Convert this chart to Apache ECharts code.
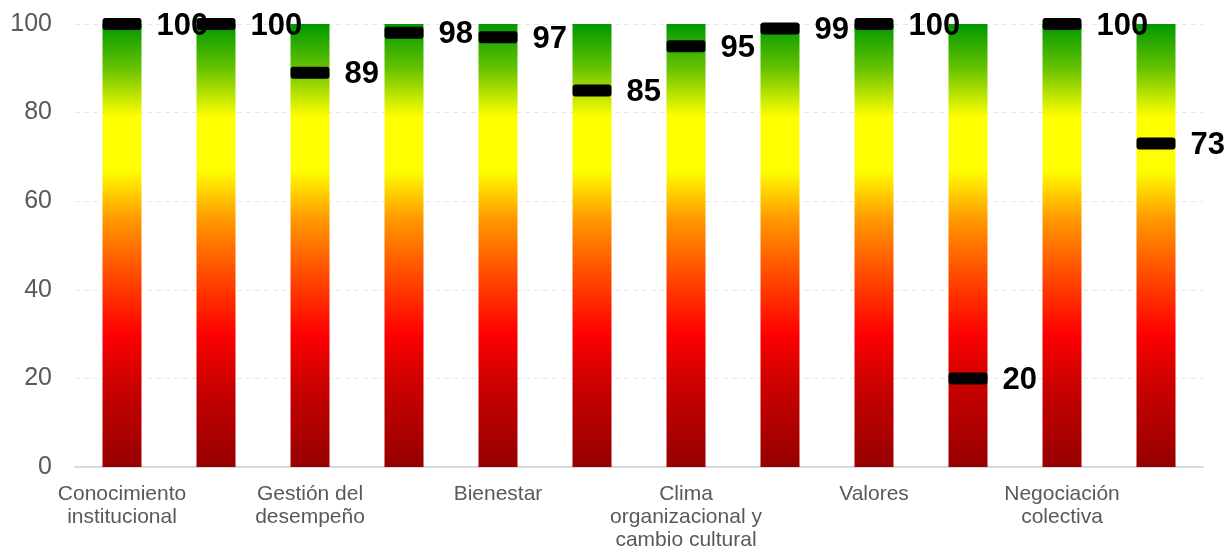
<!DOCTYPE html>
<html>
<head>
<meta charset="utf-8">
<style>
  html, body { margin: 0; padding: 0; background: #ffffff; }
  #chart { width: 1228px; height: 552px; }
</style>
<script src="https://cdn.jsdelivr.net/npm/echarts@6/dist/echarts.min.js"></script>
</head>
<body>
<div id="chart"></div>
<script>
// Categories (labels every other column), the full scale behind each column and the scored values
const categories = [
  'Conocimiento\ninstitucional', '',
  'Gestión del\ndesempeño', '',
  'Bienestar', '',
  'Clima\norganizacional y\ncambio cultural', '',
  'Valores', '',
  'Negociación\ncolectiva', ''
];
const scaleMax = [100, 100, 100, 100, 100, 100, 100, 100, 100, 100, 100, 100];
const scores = [100, 100, 89, 98, 97, 85, 95, 99, 100, 20, 100, 73];
const yTicks = { min: 0, max: 100, interval: 20 };

const FONT = '"Liberation Sans", Arial, Helvetica, sans-serif';

// Slightly rounded bar used as the score marker
const MARKER = 'path://M3,0 H36 Q39,0 39,3 V9 Q39,12 36,12 H3 Q0,12 0,9 V3 Q0,0 3,0 Z';

const chart = echarts.init(document.getElementById('chart'));

// Traffic-light gradient: green at the top, yellow, orange, red, dark red at the bottom
const scaleGradient = new echarts.graphic.LinearGradient(0, 0, 0, 1, [
  { offset: 0.00, color: '#009900' },
  { offset: 0.10, color: '#66c200' },
  { offset: 0.21, color: '#ffff00' },
  { offset: 0.33, color: '#ffff00' },
  { offset: 0.44, color: '#ff9900' },
  { offset: 0.53, color: '#ff6000' },
  { offset: 0.70, color: '#ff0000' },
  { offset: 0.81, color: '#cc0000' },
  { offset: 1.00, color: '#960000' }
]);

chart.setOption({
  animation: false,
  textStyle: { fontFamily: FONT },
  grid: { left: 75, right: 25, top: 24, bottom: 85, containLabel: false },
  xAxis: {
    type: 'category',
    data: categories,
    axisLine: { show: true, lineStyle: { color: '#d9d9d9', width: 2 } },
    axisTick: { show: false },
    axisLabel: {
      interval: 0,
      color: '#595959',
      fontFamily: FONT,
      fontSize: 21,
      lineHeight: 23,
      margin: 16
    },
    splitLine: { show: false }
  },
  yAxis: {
    type: 'value',
    min: yTicks.min,
    max: yTicks.max,
    interval: yTicks.interval,
    axisLine: { show: false },
    axisTick: { show: false },
    axisLabel: { color: '#595959', fontFamily: FONT, fontSize: 25, margin: 23 },
    splitLine: { show: true, lineStyle: { color: '#e8e8e8', type: [5, 4], width: 1 } }
  },
  series: [
    {
      type: 'bar',
      data: scaleMax,
      barWidth: 39,
      itemStyle: { color: scaleGradient },
      silent: true,
      z: 1
    },
    {
      type: 'scatter',
      data: scores,
      symbol: MARKER,
      symbolSize: [39, 12],
      itemStyle: { color: '#000000', opacity: 1 },
      z: 3,
      label: {
        show: true,
        position: 'right',
        distance: 15,
        offset: [0, 2],
        color: '#000000',
        fontFamily: FONT,
        fontSize: 31,
        fontWeight: 'bold',
        formatter: p => String(p.value)
      }
    }
  ]
});
</script>
</body>
</html>
